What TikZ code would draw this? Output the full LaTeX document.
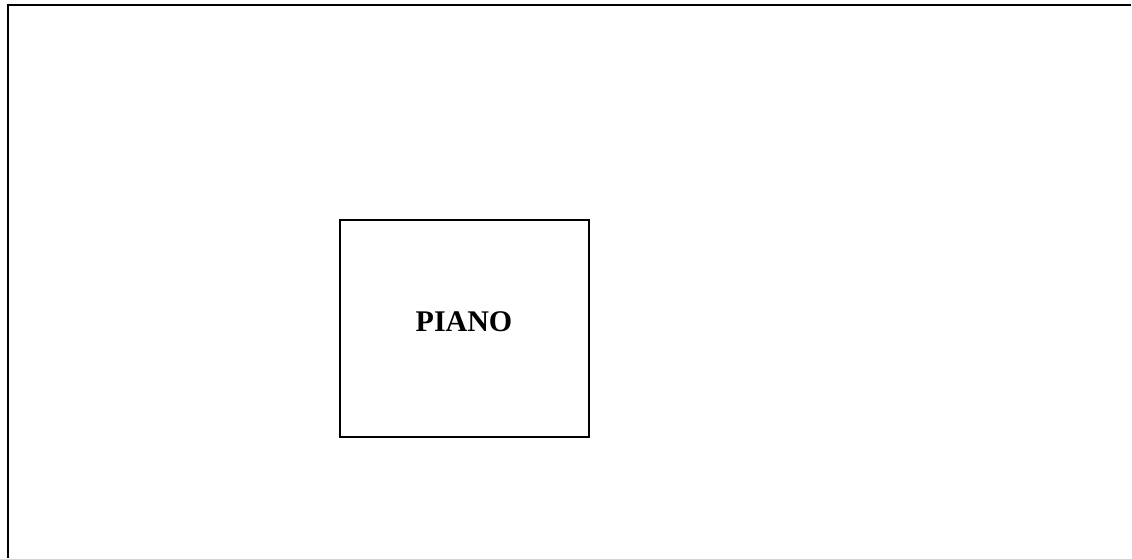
\documentclass[tikz,border=0pt]{standalone}
\usepackage{fontspec}
\setmainfont{Liberation Serif}
\tikzset{
  frameline/.style={line width=2pt, black},
  pianobox/.style={draw, line width=1.5pt, rectangle, minimum width=249pt, minimum height=217pt, inner sep=0pt},
  pianotext/.style={font=\fontsize{30pt}{36pt}\selectfont\bfseries, inner sep=0pt}
}
\begin{document}
\begin{tikzpicture}[x=1pt,y=1pt]
\useasboundingbox (0,0) rectangle (1132,558);
\coordinate (fbl) at (7.5,0);
\coordinate (ftl) at (7.5,552.5);
\coordinate (ftr) at (1131,552.5);
\draw[frameline] (fbl) -- (ftl) -- (ftr);
\node[pianobox] (box) at (464.5,229.5) {};
\node[pianotext] (lbl) at (464,236.5) {PIANO};
\end{tikzpicture}
\end{document}
